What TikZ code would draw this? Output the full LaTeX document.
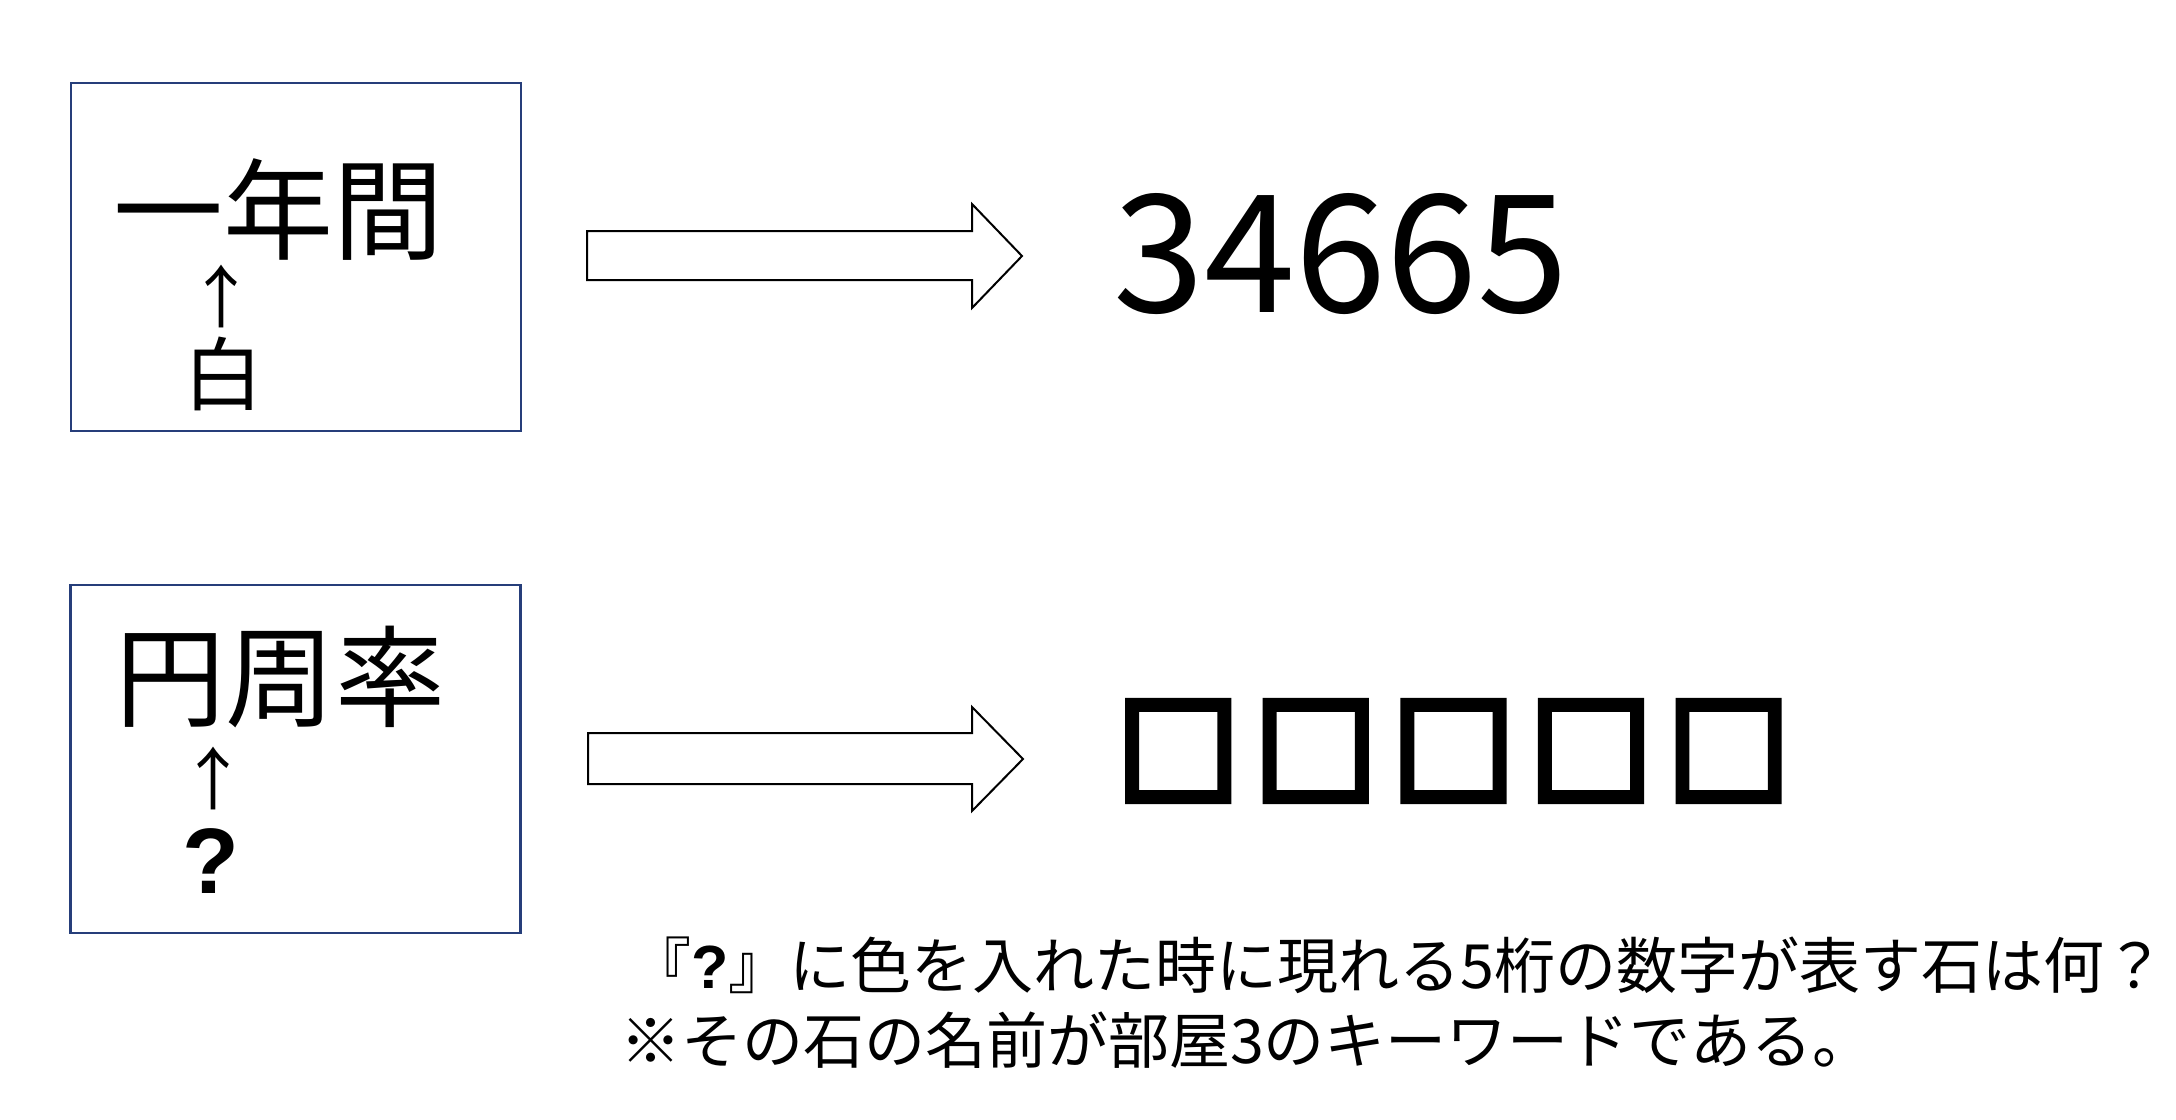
\documentclass[tikz,border=0pt]{standalone}
\usepackage{fontspec}
\setmainfont{Noto Sans CJK JP}[BoldFont={Noto Sans CJK JP Bold}]
\newfontfamily\arialfont{Liberation Sans}
\newfontfamily\sqfont{Noto Sans CJK JP Bold}[FakeBold=7]
\definecolor{boxblue}{RGB}{38,62,122}
\begin{document}
\begin{tikzpicture}[x=0.5pt,y=-0.5pt,
  framebox/.style={draw=boxblue, line width=1.45pt, minimum width=225pt, minimum height=174pt, inner sep=0pt},
  blockarrow/.style={draw=black, fill=white, line width=1pt, line join=miter},
  txt/.style={inner sep=0pt, outer sep=0pt}]
\useasboundingbox[fill=white] (0,0) rectangle (2176,1120);
% boxes
\node[framebox] (box1) at (296,257) {};
\node[framebox] (box2) at (295.5,759) {};
% box 1 contents
\node[txt, font=\fontsize{55pt}{62pt}\selectfont] (word1) at (278,210) {一年間};
\node[txt, font=\fontsize{34pt}{40pt}\selectfont] (up1) at (221,296) {↑};
\node[txt, font=\fontsize{40pt}{48pt}\selectfont] (hint1) at (223,374) {白};
% box 2 contents
\node[txt, font=\fontsize{55pt}{62pt}\selectfont] (word2) at (280,677) {円周率};
\node[txt, font=\fontsize{34pt}{40pt}\selectfont] (up2) at (213,778) {↑};
\node[txt, font=\arialfont\bfseries\fontsize{46.5pt}{54pt}\selectfont] (hint2) at (211,861) {?};
% block arrows
\draw[blockarrow] (587,231) -- (972,231) -- (972,204) -- (1022,256) -- (972,308) -- (972,280) -- (587,280) -- cycle;
\draw[blockarrow] (588,733) -- (972,733) -- (972,707) -- (1023,759) -- (972,811) -- (972,784) -- (588,784) -- cycle;
% answers
\node[txt, font=\fontsize{82pt}{96pt}\selectfont] (ans1) at (1341,254) {34665};
\node[txt, font=\sqfont\fontsize{61pt}{72pt}\selectfont] (ans2) at (1453.5,751) {□\hspace{7.8pt}□\hspace{7.8pt}□\hspace{7.8pt}□\hspace{7.8pt}□};
% question
\node[txt, anchor=base west, font=\fontsize{30.5pt}{36pt}\selectfont] (q1) at (630,988) {『{\arialfont\bfseries ?}』に色を入れた時に現れる5桁の数字が表す石は何？};
\node[txt, anchor=base west, font=\fontsize{30.5pt}{36pt}\selectfont] (q2) at (620,1063) {※その石の名前が部屋3のキーワードである。};
\end{tikzpicture}
\end{document}
